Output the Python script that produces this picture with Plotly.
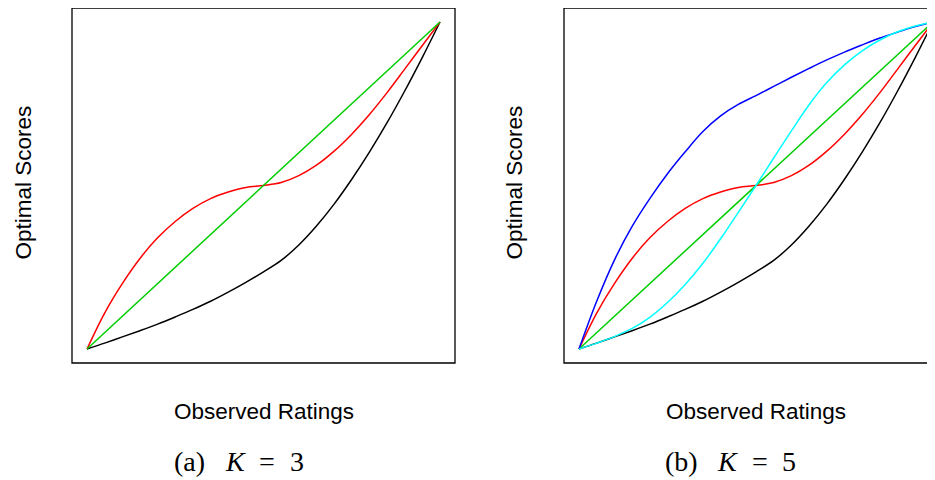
import plotly.graph_objects as go

# ---- data (observed rating position normalised to [0,1]) ----
obs = [0.00, 0.05, 0.10, 0.15, 0.20, 0.25, 0.30, 0.35, 0.40, 0.45, 0.50,
       0.55, 0.60, 0.65, 0.70, 0.75, 0.80, 0.85, 0.90, 0.95, 1.00]

black = [0.000, 0.018, 0.037, 0.056, 0.076, 0.098, 0.121, 0.146, 0.174, 0.204, 0.236,
         0.271, 0.318, 0.376, 0.443, 0.519, 0.602, 0.692, 0.789, 0.892, 1.000]
red = [0.000, 0.110, 0.200, 0.277, 0.340, 0.390, 0.430, 0.460, 0.480, 0.494, 0.500,
       0.509, 0.530, 0.562, 0.605, 0.657, 0.717, 0.784, 0.856, 0.928, 1.000]
green_x = [0.0, 1.0]
green = [0.0, 1.0]
blue = [0.000, 0.146, 0.272, 0.375, 0.460, 0.536, 0.603, 0.665, 0.713, 0.748, 0.775,
        0.803, 0.831, 0.858, 0.884, 0.908, 0.930, 0.951, 0.969, 0.986, 1.000]
cyan = [0.000, 0.018, 0.038, 0.063, 0.097, 0.142, 0.197, 0.262, 0.337, 0.418, 0.500,
        0.584, 0.667, 0.747, 0.815, 0.869, 0.912, 0.945, 0.970, 0.988, 1.000]

x_label = "Observed Ratings"
y_label = "Optimal Scores"
caption_a = ["(a)", "K", "=", "3"]
caption_b = ["(b)", "K", "=", "5"]

# page body has an 8px margin; figure drawn at (8,8)
OFF = 8
W, H = 935 - OFF, 480 - OFF
LW = 1.5


def fx(px):
    return (px - OFF) / W


def fy(py):
    return 1 - (py - OFF) / H


fig = go.Figure()


def add_curve(xs, ys, color, ax):
    fig.add_trace(go.Scatter(
        x=xs, y=ys, mode="lines",
        line=dict(color=color, width=LW, shape="spline", smoothing=1.0),
        xaxis=ax[0], yaxis=ax[1], showlegend=False, hoverinfo="skip"))


# panel (a)
add_curve(obs, black, "#000000", ("x", "y"))
add_curve(obs, red, "#FF0000", ("x", "y"))
add_curve(green_x, green, "#00CD00", ("x", "y"))
# panel (b)
add_curve(obs, black, "#000000", ("x2", "y2"))
add_curve(obs, red, "#FF0000", ("x2", "y2"))
add_curve(green_x, green, "#00CD00", ("x2", "y2"))
add_curve(obs, blue, "#0000FF", ("x2", "y2"))
add_curve(obs, cyan, "#00FFFF", ("x2", "y2"))

ax_common = dict(showgrid=False, zeroline=False, showticklabels=False,
                 ticks="", showline=False, fixedrange=True)

y_dom = [fy(363), fy(8)]
y_rng = [-14 / 327, 341 / 327]

fig.update_layout(
    width=W, height=H,
    margin=dict(l=0, r=0, t=0, b=0),
    paper_bgcolor="white", plot_bgcolor="white",
    xaxis=dict(domain=[fx(72), fx(455)], range=[-15 / 353, 368 / 353], anchor="y", **ax_common),
    yaxis=dict(domain=y_dom, range=y_rng, anchor="x", **ax_common),
    xaxis2=dict(domain=[fx(564), 1.0], range=[-15 / 354, 356 / 354], anchor="y2", **ax_common),
    yaxis2=dict(domain=y_dom, range=y_rng, anchor="x2", **ax_common),
)

# frames
for x0, x1 in [(72, 455), (564, 948)]:
    fig.add_shape(type="rect", xref="paper", yref="paper",
                  x0=fx(x0), x1=fx(x1), y0=fy(363), y1=fy(8),
                  line=dict(color="black", width=1.3), fillcolor="rgba(0,0,0,0)",
                  layer="above")

sans = dict(family="Liberation Sans, Arial, sans-serif", size=22.5, color="black")
serif = dict(family="Liberation Serif, Times New Roman, serif", size=28, color="black")

for cx, lx in [(263.5, 23), (756, 514)]:
    fig.add_annotation(text=x_label, x=fx(cx), y=fy(411), xref="paper", yref="paper",
                       showarrow=False, xanchor="center", yanchor="middle", font=sans)
    fig.add_annotation(text=y_label, x=fx(lx), y=fy(182.5), xref="paper", yref="paper",
                       showarrow=False, xanchor="center", yanchor="middle", textangle=-90,
                       font=sans)

for cap, off in [(caption_a, 0.0), (caption_b, 492.5)]:
    centers = [189, 235, 267, 296.5]
    for txt, c in zip(cap, centers):
        t = "<i>%s</i>" % txt if txt == "K" else txt
        fig.add_annotation(text=t, x=fx(c + off), y=fy(461), xref="paper", yref="paper",
                           showarrow=False, xanchor="center", yanchor="middle", font=serif)

fig.write_html("out.html")
